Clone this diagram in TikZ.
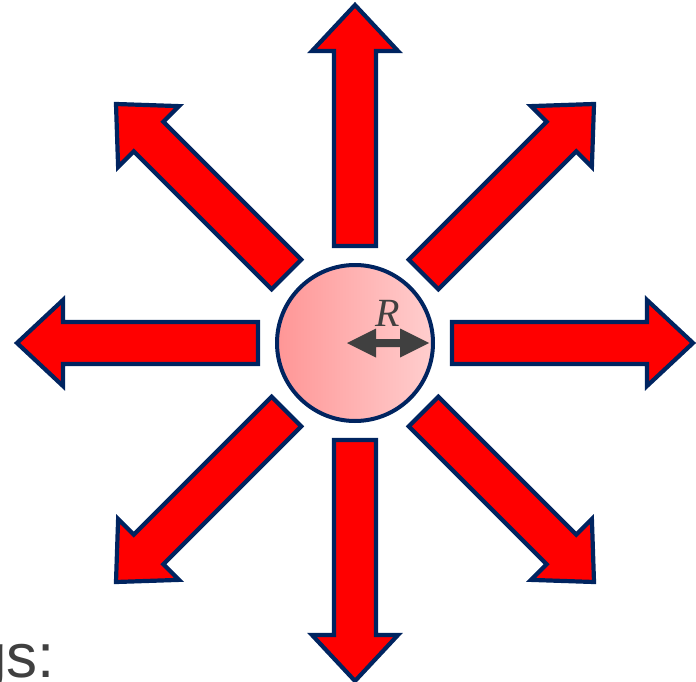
\documentclass[tikz,border=0pt]{standalone}
\usepackage{fontspec}
\usetikzlibrary{calc}
\setmainfont{Liberation Sans}
\newfontfamily\serifit{Liberation Serif}
\definecolor{navy}{RGB}{0,36,96}
\definecolor{arrred}{RGB}{255,0,0}
\definecolor{dgray}{RGB}{64,64,64}
\tikzset{
  blockarrow/.style={draw=navy, fill=arrred, line width=4.2pt, miter limit=10},
}
\begin{document}
\begin{tikzpicture}[x=1pt,y=-1pt]
\useasboundingbox (0,0) rectangle (696,682);
\coordinate (c) at (355,343);
\foreach \a in {0,45,...,315}{
  \draw[blockarrow, shift={(c)}, rotate=\a]
    (97,-21) -- (292,-21) -- (292,-43) -- (338,0) -- (292,43) -- (292,21) -- (97,21) -- cycle;
}
\node[circle, draw=navy, line width=4pt, minimum size=156pt, inner sep=0pt,
      left color={rgb,255:red,255;green,150;blue,150},
      right color={rgb,255:red,255;green,206;blue,206}] (ball) at (c) {};
\coordinate (ra) at (347,343);
\coordinate (rb) at (429,343);
\fill[dgray] (ra) -- ++(29,-14.5) -- ++(0,10.5) -- ($(rb)+(-29,-4)$) -- ++(0,-10.5) -- (rb) -- ++(-29,14.5) -- ++(0,-10.5) -- ($(ra)+(29,4)$) -- ++(0,10.5) -- cycle;
\node[text=dgray, font=\serifit\itshape\fontsize{40}{40}\selectfont, inner sep=0pt] (rlab) at (388,313) {R};
\node[text=dgray, font=\fontsize{62}{62}\selectfont, anchor=base east, inner sep=0pt] (txt) at (55,677) {gs:};
\end{tikzpicture}
\end{document}
